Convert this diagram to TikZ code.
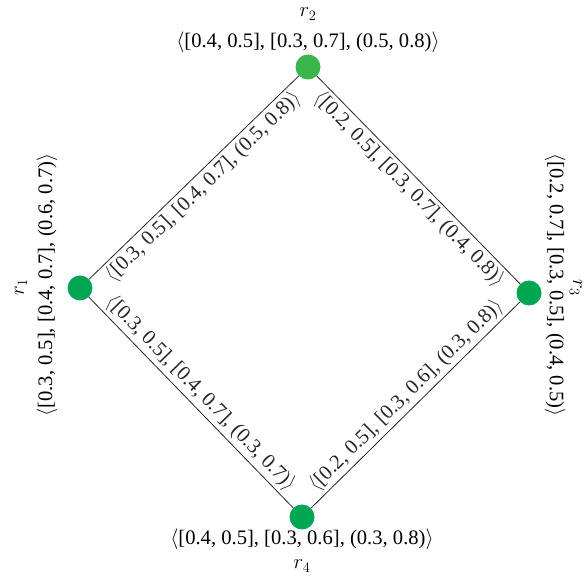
\documentclass[tikz,border=0pt]{standalone}
\usepackage{fontspec}
\setmainfont{Liberation Serif}
\usepackage{xcolor}
\usepackage{tikz}

\definecolor{vgreen}{RGB}{0,166,81}
\definecolor{vlight}{RGB}{57,181,74}

% interval-valued triple
\newcommand{\ivtriple}[3]{$\langle$#1, #2, #3$\rangle$}

\begin{document}
\begin{tikzpicture}[
  x=1pt, y=1pt,
  vertex/.style={circle, fill=vgreen, minimum size=25pt, inner sep=0pt},
  link/.style={black!85, line width=0.8pt},
  tuple/.style={font=\fontsize{20.6}{24}\selectfont, inner sep=0pt},
  vname/.style={font=\fontsize{21}{24}\selectfont, inner sep=0pt},
  edgetuple/.style={font=\fontsize{20.6}{24}\selectfont, sloped, inner sep=2.5pt},
]
\useasboundingbox (0,0) rectangle (584,576);

% ─── Vertices ──────────────────────────────────────────────────────────────
\node[vertex] (r1) at (80,288) {};
\node[vertex, fill=vlight] (r2) at (308,509) {};
\node[vertex] (r3) at (529,283) {};
\node[vertex] (r4) at (302,59) {};

% ─── Vertex labels ─────────────────────────────────────────────────────────
\node[vname] (n2) at (308,562) {$r_2$};
\node[tuple] (t2) at (308,534) {\ivtriple{[0.4, 0.5]}{[0.3, 0.7]}{(0.5, 0.8)}};

\node[vname, rotate=90] (n1) at (21,289) {$r_1$};
\node[tuple, rotate=90] (t1) at (47,291) {\ivtriple{[0.3, 0.5]}{[0.4, 0.7]}{(0.6, 0.7)}};

\node[vname, rotate=-90] (n3) at (576,288) {$r_3$};
\node[tuple, rotate=-90] (t3) at (555,291) {\ivtriple{[0.2, 0.7]}{[0.3, 0.5]}{(0.4, 0.5)}};

\node[tuple] (t4) at (302,37) {\ivtriple{[0.4, 0.5]}{[0.3, 0.6]}{(0.3, 0.8)}};
\node[vname] (n4) at (302,10) {$r_4$};

% ─── Edges ─────────────────────────────────────────────────────────────────
\draw[link] (r1) -- node[edgetuple, below] (e12) {\ivtriple{[0.3, 0.5]}{[0.4, 0.7]}{(0.5, 0.8)}} (r2);
\draw[link] (r2) -- node[edgetuple, below] (e23) {\ivtriple{[0.2, 0.5]}{[0.3, 0.7]}{(0.4, 0.8)}} (r3);
\draw[link] (r1) -- node[edgetuple, above] (e14) {\ivtriple{[0.3, 0.5]}{[0.4, 0.7]}{(0.3, 0.7)}} (r4);
\draw[link] (r4) -- node[edgetuple, above] (e43) {\ivtriple{[0.2, 0.5]}{[0.3, 0.6]}{(0.3, 0.8)}} (r3);

\end{tikzpicture}
\end{document}
